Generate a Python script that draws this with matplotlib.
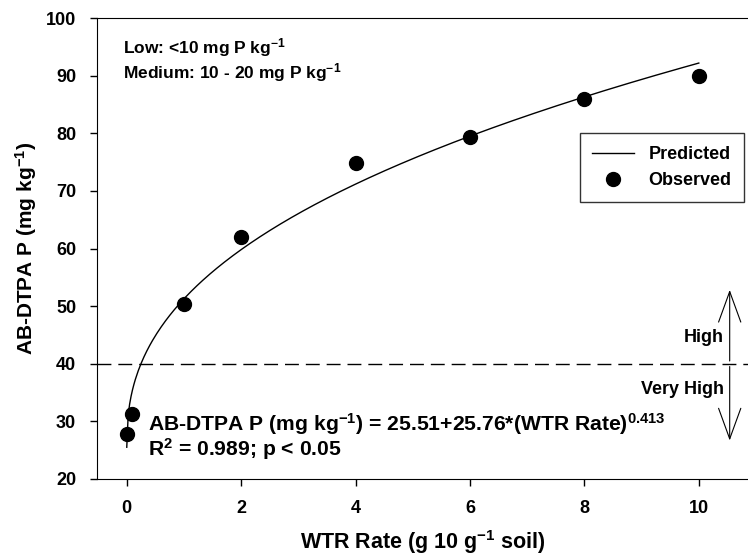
import numpy as np
from matplotlib import pyplot as plt

plt.rcParams['font.family'] = ['Liberation Sans', 'DejaVu Sans']
plt.rcParams['font.weight'] = 'bold'
plt.rcParams['mathtext.fontset'] = 'custom'
plt.rcParams['mathtext.rm'] = 'Liberation Sans:bold'
plt.rcParams['mathtext.bf'] = 'Liberation Sans:bold'
plt.rcParams['mathtext.default'] = 'bf'

# observed data
wtr_rate = [0, 0.1, 1, 2, 4, 6, 8, 10]
ab_dtpa_p = [27.8, 31.3, 50.3, 62.0, 74.9, 79.4, 86.0, 90.0]

# fitted model
a, b, c = 25.51, 25.76, 0.413
x_fit = np.linspace(0, 10, 400)
y_fit = a + b * x_fit ** c

threshold = 40

fig = plt.figure(figsize=(7.48, 5.56), dpi=100)
ax = fig.add_axes([0.1297, 0.1385, 0.8703, 0.8291])

ax.plot(x_fit, y_fit, color='black', linewidth=1, label='Predicted')
ax.plot(wtr_rate, ab_dtpa_p, 'o', color='black', markersize=10, label='Observed')
ax.axhline(threshold, color='black', linewidth=1, dashes=(10, 5))

# fleches High / Very High
arrow_style = '->,head_length=2.2,head_width=0.8'
ax.annotate('', xy=(10.54, 53.3), xytext=(10.54, 40),
            arrowprops=dict(arrowstyle=arrow_style, color='black', lw=0.8))
ax.annotate('', xy=(10.54, 26.2), xytext=(10.54, 40),
            arrowprops=dict(arrowstyle=arrow_style, color='black', lw=0.8))
ax.text(10.44, 44.6, 'High', ha='right', va='center', fontsize=13, fontweight='bold')
ax.text(10.44, 35.6, 'Very High', ha='right', va='center', fontsize=13, fontweight='bold')

ax.text(-0.07, 94.8, 'Low: <10 mg P kg$^{-1}$', fontsize=12.5, fontweight='bold', va='center')
ax.text(-0.07, 90.6, 'Medium: 10 - 20 mg P kg$^{-1}$', fontsize=12.5, fontweight='bold', va='center')

ax.text(0.37, 29.6, 'AB-DTPA P (mg kg$^{\\mathbf{-1}}$) = 25.51+25.76*(WTR Rate)$^{0.413}$',
        fontsize=15.2, fontweight='bold', va='center')
ax.text(0.37, 25.2, 'R$^2$ = 0.989; p < 0.05', fontsize=15.2, fontweight='bold', va='center')

ax.set_xlim(-0.52, 10.86)
ax.set_ylim(20, 100)
ax.set_xticks([0, 2, 4, 6, 8, 10])
ax.set_yticks(range(20, 101, 10))
ax.tick_params(direction='out', length=5, width=1, labelsize=13, pad=10)
for lab in ax.get_xticklabels() + ax.get_yticklabels():
    lab.set_fontweight('bold')
ax.spines['right'].set_visible(False)

ax.set_xlabel('WTR Rate (g 10 g$^{-1}$ soil)', fontsize=15.5, fontweight='bold', labelpad=8)
ax.set_ylabel('AB-DTPA P (mg kg$^{-1}$)', fontsize=15, fontweight='bold', labelpad=5)

leg = ax.legend(loc='upper right', bbox_to_anchor=(0.994, 0.75), borderaxespad=0,
                frameon=True, fancybox=False, edgecolor='black', handlelength=2.3,
                borderpad=0.7, labelspacing=0.5, handletextpad=0.8,
                prop={'weight': 'bold', 'size': 13})
leg.get_frame().set_linewidth(1)

plt.savefig('out.png', dpi=100)
